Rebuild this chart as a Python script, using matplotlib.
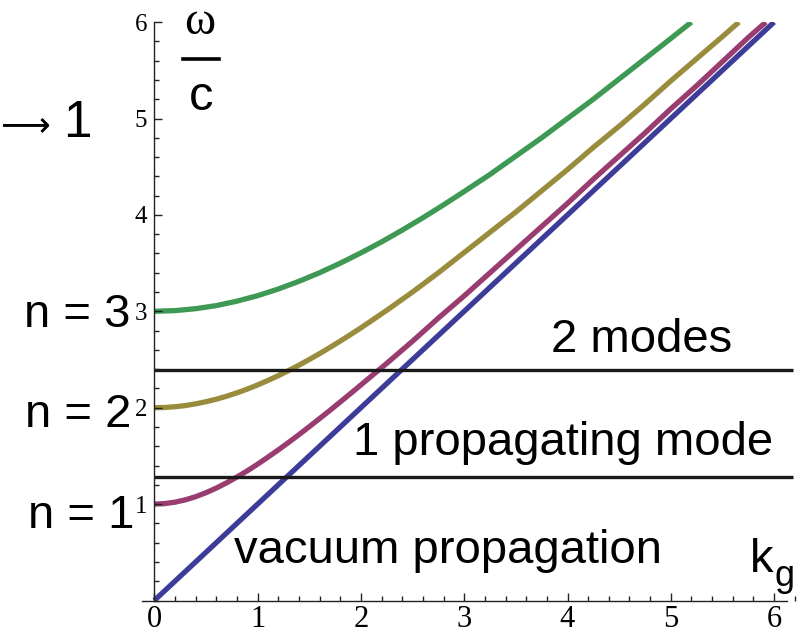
import numpy as np
import matplotlib.pyplot as plt
from matplotlib.ticker import MultipleLocator
from matplotlib.lines import Line2D

# valores (omega/c em funcao de k_g)
k_n0 = [0.0, 6.0]
w_n0 = [0.0, 6.0]

k_n1 = [0, 0.1, 0.2, 0.3, 0.4, 0.5, 0.6, 0.7, 0.8, 0.9, 1.0, 1.1, 1.2, 1.3,
        1.4, 1.5, 1.6, 1.7, 1.8, 1.9, 2.0, 2.25, 2.5, 2.75, 3, 3.25, 3.5,
        3.75, 4, 4.25, 4.5, 4.75, 5, 5.25, 5.5, 5.75, 5.92]
w_n1 = [1.000, 1.005, 1.020, 1.044, 1.077, 1.118, 1.166, 1.221, 1.281, 1.345,
        1.414, 1.487, 1.562, 1.640, 1.720, 1.803, 1.887, 1.972, 2.059, 2.147,
        2.236, 2.46, 2.69, 2.93, 3.16, 3.40, 3.64, 3.88, 4.12, 4.37, 4.61,
        4.85, 5.10, 5.34, 5.59, 5.84, 6.0]

k_n2 = [0, 0.1, 0.2, 0.3, 0.4, 0.5, 0.6, 0.7, 0.8, 0.9, 1.0, 1.1, 1.2, 1.3,
        1.4, 1.5, 1.6, 1.7, 1.8, 1.9, 2.0, 2.25, 2.5, 2.75, 3, 3.25, 3.5,
        3.75, 4, 4.25, 4.5, 4.75, 5, 5.25, 5.5, 5.66]
w_n2 = [2.000, 2.002, 2.010, 2.022, 2.040, 2.062, 2.088, 2.119, 2.154, 2.193,
        2.236, 2.283, 2.332, 2.385, 2.441, 2.500, 2.561, 2.625, 2.691, 2.759,
        2.828, 3.01, 3.20, 3.40, 3.61, 3.82, 4.03, 4.25, 4.47, 4.70, 4.92,
        5.15, 5.39, 5.62, 5.85, 6.0]

k_n3 = [0, 0.2, 0.4, 0.6, 0.8, 1.0, 1.2, 1.4, 1.6, 1.8, 2.0, 2.2, 2.4, 2.6,
        2.8, 3.0, 3.25, 3.5, 3.75, 4, 4.25, 4.5, 4.75, 5, 5.2]
w_n3 = [3.000, 3.007, 3.027, 3.059, 3.105, 3.162, 3.231, 3.311, 3.400, 3.499,
        3.606, 3.720, 3.842, 3.970, 4.104, 4.243, 4.42, 4.61, 4.80, 5.00,
        5.20, 5.41, 5.62, 5.83, 6.0]

# niveis das linhas horizontais
niveis = [1.28, 2.39]
x_xticks = [0, 1, 2, 3, 4, 5, 6]
y_yticks = [1, 2, 3, 4, 5, 6]

W, H = 801, 633
fig = plt.figure(figsize=(W / 100, H / 100), dpi=100)

# eixo: x=0 em 154.3 px, 103.3 px/unidade ; y=0 em 600.5 px, 96.4 px/unidade
xmin, xmax = -0.12, 6.2
left = 154.3 + xmin * 103.3
width = (xmax - xmin) * 103.3
bottom = H - 600.5
height = 6 * 96.4
ax = fig.add_axes([left / W, bottom / H, width / W, height / H])
ax.set_xlim(xmin, xmax)
ax.set_ylim(0, 6)

cores = ['#3d3d99', '#993d71', '#998c3d', '#3d9954']
lw = 3.8
ax.plot(k_n0, w_n0, color=cores[0], lw=lw, solid_capstyle='butt')
ax.plot(k_n1, w_n1, color=cores[1], lw=lw, solid_capstyle='butt')
ax.plot(k_n2, w_n2, color=cores[2], lw=lw, solid_capstyle='butt')
ax.plot(k_n3, w_n3, color=cores[3], lw=lw, solid_capstyle='butt')

ax.hlines(niveis, 0, 6.18, colors='#1a1a1a', lw=2.4, clip_on=False)

# estilo dos eixos (tipo Mathematica)
for s in ['top', 'right']:
    ax.spines[s].set_visible(False)
ax.spines['left'].set_position(('data', 0))
ax.spines['left'].set_bounds(0, 6)
ax.spines['bottom'].set_bounds(xmin, 6.125)
for s in ['left', 'bottom']:
    ax.spines[s].set_linewidth(1.0)
    ax.spines[s].set_color('#222222')
ax.set_axisbelow(False)

ax.set_xticks(x_xticks)
ax.set_yticks(y_yticks)
ax.xaxis.set_minor_locator(MultipleLocator(0.2))
ax.yaxis.set_minor_locator(MultipleLocator(0.2))
ax.tick_params(which='both', direction='in', color='#222222', width=1.0)
ax.tick_params(which='major', length=6)
ax.tick_params(which='minor', length=3.6)
ax.tick_params(axis='x', which='major', pad=3, labelsize=22,
               labelfontfamily='Liberation Serif')
ax.tick_params(axis='y', which='major', pad=5, labelsize=18,
               labelfontfamily='Liberation Serif')

sans = ['Liberation Sans', 'DejaVu Sans']


def txt(px, py, s, size, ha='left', family=sans):
    fig.text(px / W, 1 - py / H, s, fontsize=size, ha=ha, va='baseline',
             family=family, color='black')


txt(0, 135, '\u27f6', 25, family=['DejaVu Sans'])
txt(92, 137, '1', 37, ha='right')
txt(131, 327, 'n = 3', 34, ha='right')
txt(131, 427, 'n = 2', 34, ha='right')
txt(134, 528, 'n = 1', 34, ha='right')
txt(551, 352, '2 modes', 34)
txt(353, 455, '1 propagating mode', 34)
txt(234, 563, 'vacuum propagation', 34)
txt(750, 572, 'k', 34)
txt(775, 586, 'g', 26)

# omega / c
txt(200, 34, '\u03c9', 34, ha='center', family=['Liberation Serif', 'DejaVu Serif'])
fig.add_artist(Line2D([183 / W, 219 / W], [1 - 59 / H, 1 - 59 / H],
                      color='black', lw=2.6))
txt(201, 110, 'c', 35, ha='center')

fig.savefig('out.png', dpi=100)
